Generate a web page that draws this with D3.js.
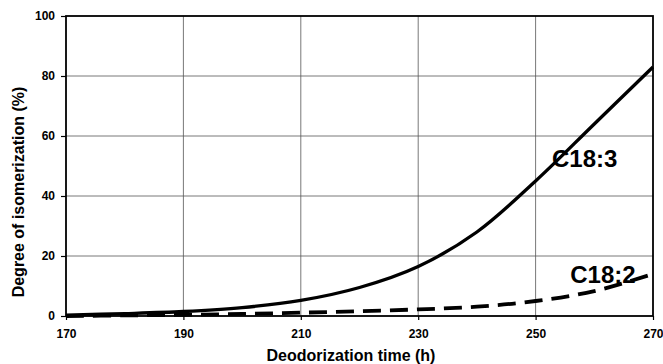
<!DOCTYPE html>
<html>
<head>
<meta charset="utf-8">
<script src="https://cdn.jsdelivr.net/npm/d3@7"></script>
<style>
  body { margin: 0; background: #fff; }
  svg { display: block; font-family: "Liberation Sans", Arial, sans-serif; }
  .tick text { font-size: 12px; font-weight: bold; fill: #000; }
  .grid line { stroke: #555; stroke-width: 0.8; }
</style>
</head>
<body>
<svg class="chart" width="663" height="364"></svg>
<script>
const times = [170, 180, 190, 200, 210, 220, 230, 240, 250, 260, 270];
const c183 = [0.3, 0.8, 1.5, 2.8, 5.2, 9.5, 16.5, 28, 45, 64, 83];
const c182 = [0, 0.2, 0.4, 0.7, 1.1, 1.6, 2.2, 3.1, 5, 8.3, 14];
const xTicks = [170, 190, 210, 230, 250, 270];
const yTicks = [0, 20, 40, 60, 80, 100];

const margin = { top: 16, left: 66, bottom: 48, right: 10 };
const viewBox = { width: 663, height: 364 };
const width = viewBox.width - margin.left - margin.right;
const height = viewBox.height - margin.top - margin.bottom;

const svg = d3.select('.chart');
const chart = svg.append('g').attr('transform', `translate(${margin.left}, ${margin.top})`);

const xScale = d3.scaleLinear().domain([170, 270]).range([0, width]);
const yScale = d3.scaleLinear().domain([0, 100]).range([height, 0]);

// grid
chart.append('g').classed('grid', true)
  .selectAll('line.h').data(yTicks.slice(1, -1)).enter().append('line')
  .attr('x1', 0).attr('x2', width)
  .attr('y1', d => yScale(d)).attr('y2', d => yScale(d));
chart.select('.grid')
  .selectAll('line.v').data(xTicks.slice(1, -1)).enter().append('line')
  .attr('y1', 0).attr('y2', height)
  .attr('x1', d => xScale(d)).attr('x2', d => xScale(d));

// axes
const xAxis = d3.axisBottom(xScale).tickValues(xTicks).tickSize(4).tickSizeOuter(0).tickPadding(9);
const yAxis = d3.axisLeft(yScale).tickValues(yTicks).tickSize(5).tickSizeOuter(0).tickPadding(6);
const gx = chart.append('g').attr('transform', `translate(0, ${height})`).call(xAxis);
const gy = chart.append('g').call(yAxis);
[gx, gy].forEach(g => {
  g.select('.domain').remove();
  g.selectAll('.tick line').attr('stroke', '#000').attr('stroke-width', 1.2);
});

// frame
chart.append('rect')
  .attr('x', 0).attr('y', 0).attr('width', width).attr('height', height)
  .attr('fill', 'none').attr('stroke', '#000').attr('stroke-width', 1.8);

// curves
const line = d3.line()
  .x((d, i) => xScale(times[i]))
  .y(d => yScale(d))
  .curve(d3.curveCatmullRom.alpha(0.5));

chart.append('path').datum(c182)
  .attr('d', line)
  .attr('fill', 'none').attr('stroke', '#000')
  .attr('stroke-width', 3.8).attr('stroke-dasharray', '18,9');

chart.append('path').datum(c183)
  .attr('d', line)
  .attr('fill', 'none').attr('stroke', '#000')
  .attr('stroke-width', 3.3);

// series labels
chart.append('text')
  .attr('x', xScale(252.8)).attr('y', yScale(49.6))
  .style('font-size', '24px').style('font-weight', 'bold')
  .text('C18:3');
chart.append('text')
  .attr('x', xScale(255.9)).attr('y', yScale(10.9))
  .style('font-size', '24px').style('font-weight', 'bold')
  .text('C18:2');

// axis titles
svg.append('text')
  .attr('x', 351).attr('y', 361)
  .attr('text-anchor', 'middle')
  .style('font-size', '16px').style('font-weight', 'bold')
  .text('Deodorization time (h)');
svg.append('text')
  .attr('transform', 'translate(24, 192) rotate(-90)')
  .attr('text-anchor', 'middle')
  .style('font-size', '16px').style('font-weight', 'bold')
  .text('Degree of isomerization (%)');
</script>
</body>
</html>
